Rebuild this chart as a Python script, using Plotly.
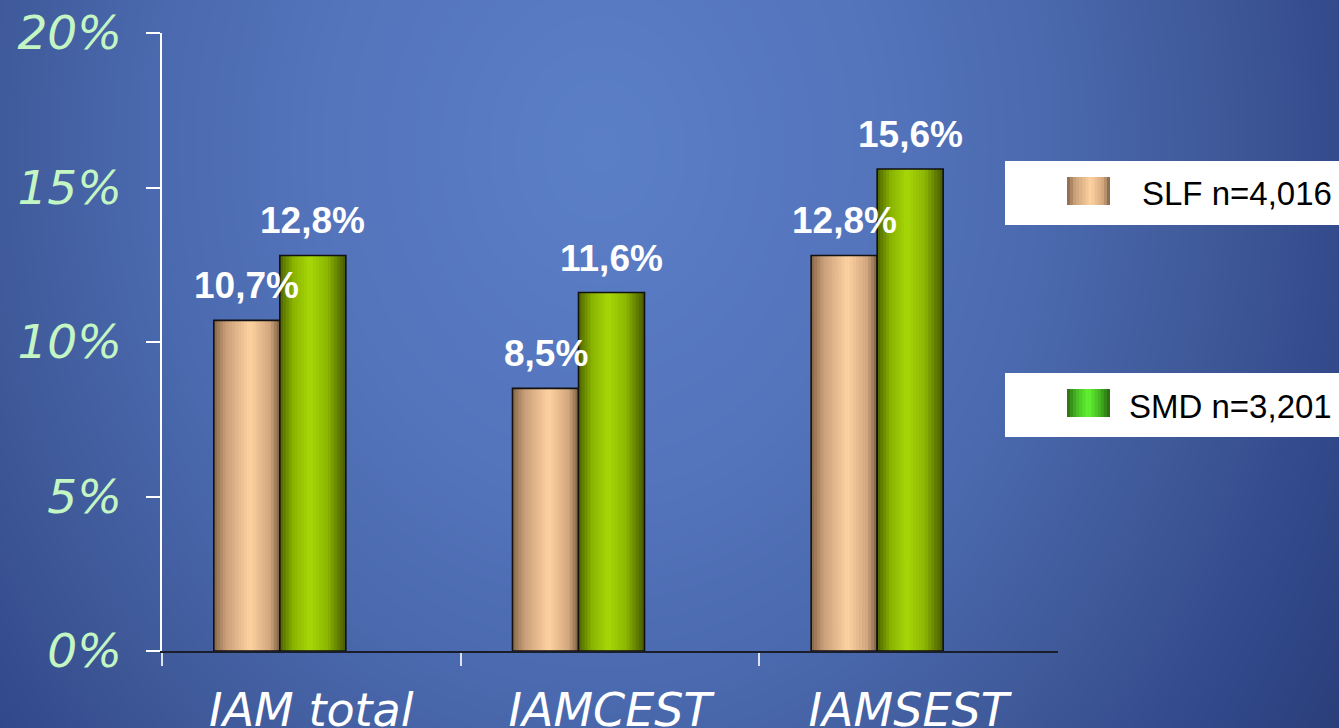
import numpy as np
import plotly.graph_objects as go

# ---- data ----
categories = ["IAM total", "IAMCEST", "IAMSEST"]
series_names = ["SLF n=4,016", "SMD n=3,201"]
slf_values = [10.7, 8.5, 12.8]
smd_values = [12.8, 11.6, 15.6]
y_ticks = [0, 5, 10, 15, 20]

W, H = 1339, 728
PX_PER_CAT = 896 / 3.0          # plot width / number of categories
BAR_W = 66 / PX_PER_CAT          # bar width in category units
OFFSETS = [-97.5 / PX_PER_CAT, -31.5 / PX_PER_CAT]

# cylinder-like shading for each series: (position, colour) stops across a bar
SHADES = [
    [(0.0, (0x86, 0x66, 0x48)), (0.18, (0xc8, 0x9e, 0x78)), (0.55, (0xff, 0xd2, 0xa0)),
     (0.85, (0xd2, 0xa6, 0x7e)), (1.0, (0x7c, 0x5e, 0x42))],
    [(0.0, (0x4e, 0x64, 0x00)), (0.2, (0x88, 0xb2, 0x00)), (0.45, (0xa8, 0xd8, 0x08)),
     (0.72, (0x8c, 0xb6, 0x02)), (1.0, (0x46, 0x58, 0x00))],
]
SWATCH_SHADES = [
    SHADES[0],
    [(0.0, (0x2a, 0x6e, 0x12)), (0.25, (0x48, 0xc0, 0x24)), (0.5, (0x62, 0xf4, 0x32)),
     (0.75, (0x46, 0xb8, 0x22)), (1.0, (0x28, 0x66, 0x10))],
]


def shade(stops, t):
    pos = [p for p, _ in stops]
    rgb = [np.interp(t, pos, [c[k] for _, c in stops]) for k in range(3)]
    return "rgb(%d,%d,%d)" % tuple(int(round(v)) for v in rgb)


fig = go.Figure()

# ---- background: soft radial blue gradient over the whole page ----
gx = np.linspace(0, 1, 90)
gy = np.linspace(0, 1, 50)
PX, PY = np.meshgrid(gx * W, (1 - gy) * H)
dist = np.sqrt(((PX - 600) / 900) ** 2 + ((PY - 150) / 1100) ** 2)
fig.add_trace(go.Heatmap(
    x=gx, y=gy, z=np.clip(dist, 0, 1), zmin=0, zmax=1, zsmooth="best",
    colorscale=[[0, "#5b7fc7"], [0.3, "#5474bc"], [0.5, "#4a69ae"],
                [0.7, "#3e5897"], [0.85, "#31488a"], [1, "#293c76"]],
    showscale=False, hoverinfo="skip", xaxis="x", yaxis="y",
))

# ---- bars: each series drawn as thin shaded strips plus an outline ----
N_STRIPS = 22
for s, values in enumerate([slf_values, smd_values]):
    step = BAR_W / N_STRIPS
    for i in range(N_STRIPS):
        t = (i + 0.5) / N_STRIPS
        wid = step * (1.0 if i == N_STRIPS - 1 else 1.25)
        fig.add_trace(go.Bar(
            x=categories, y=values, base=0,
            offset=OFFSETS[s] + i * step, width=wid,
            marker=dict(color=shade(SHADES[s], t), line=dict(width=0)),
            xaxis="x2", yaxis="y2", hoverinfo="skip", showlegend=False,
        ))
    fig.add_trace(go.Bar(
        x=categories, y=values, base=0, offset=OFFSETS[s], width=BAR_W,
        name=series_names[s],
        marker=dict(color="rgba(0,0,0,0)", line=dict(color="#111111", width=1.6)),
        xaxis="x2", yaxis="y2", showlegend=False,
    ))

# ---- value labels above bars ----
annotations = []
for s, values in enumerate([slf_values, smd_values]):
    for i, v in enumerate(values):
        annotations.append(dict(
            x=i + OFFSETS[s] + BAR_W / 2, y=v, xref="x2", yref="y2",
            text=("%.1f" % v).replace(".", ",") + "%",
            showarrow=False, xanchor="center", yanchor="bottom", yshift=12,
            font=dict(family="Liberation Sans, Arial", size=37, color="white", weight="bold"),
        ))

# ---- legend: two white boxes with shaded swatches ----
shapes = []
def px_x(x):
    return x / W
def px_y(y):
    return 1 - y / H

legend_rows = [(161, 225, 177, 205), (373, 437, 389, 417)]
for s, (top, bot, sw_top, sw_bot) in enumerate(legend_rows):
    shapes.append(dict(type="rect", xref="paper", yref="paper",
                       x0=px_x(1005), x1=px_x(1345), y0=px_y(bot), y1=px_y(top),
                       fillcolor="white", line=dict(width=0), layer="above"))
    n = 14
    sx0, sx1 = 1067, 1110
    for i in range(n):
        a = sx0 + (sx1 - sx0) * i / n
        b = sx0 + (sx1 - sx0) * (i + 1) / n + (0.6 if i < n - 1 else 0)
        shapes.append(dict(type="rect", xref="paper", yref="paper",
                           x0=px_x(a), x1=px_x(b), y0=px_y(sw_bot), y1=px_y(sw_top),
                           fillcolor=shade(SWATCH_SHADES[s], (i + 0.5) / n),
                           line=dict(width=0), layer="above"))
    annotations.append(dict(
        x=px_x(1334), y=px_y((top + bot) / 2 + 1), xref="paper", yref="paper",
        text=series_names[s], showarrow=False, xanchor="right", yanchor="middle",
        font=dict(family="Liberation Sans, Arial", size=33, color="black"),
    ))

fig.update_layout(
    width=W, height=H, margin=dict(l=0, r=0, t=0, b=0, autoexpand=False),
    paper_bgcolor="#4762a8", plot_bgcolor="rgba(0,0,0,0)",
    barmode="overlay", showlegend=False,
    xaxis=dict(domain=[0, 1], range=[0, 1], visible=False, fixedrange=True),
    yaxis=dict(domain=[0, 1], range=[0, 1], visible=False, fixedrange=True),
    xaxis2=dict(
        domain=[162 / W, 1058 / W], anchor="y2", type="category",
        range=[-0.5, 2.5], tickson="boundaries", automargin=False,
        ticks="outside", ticklen=13, tickwidth=1.5, tickcolor="#dde4f0",
        showline=True, linecolor="#1a1d2a", linewidth=2,
        showgrid=False, zeroline=False, ticklabelstandoff=18,
        tickfont=dict(family="DejaVu Sans", size=46, color="white", style="italic"),
    ),
    yaxis2=dict(
        domain=[(H - 651) / H, (H - 33) / H], anchor="x2",
        range=[0, 20], tickvals=y_ticks, ticktext=["%d%%" % v for v in y_ticks],
        automargin=False,
        ticks="outside", ticklen=14, tickwidth=1.5, tickcolor="white",
        showline=True, linecolor="white", linewidth=1.5,
        showgrid=False, zeroline=False, ticklabelstandoff=15,
        tickfont=dict(family="DejaVu Sans", size=47, color="#c4f6c4", style="italic"),
    ),
    shapes=shapes, annotations=annotations,
)

fig.write_html("out.html")
